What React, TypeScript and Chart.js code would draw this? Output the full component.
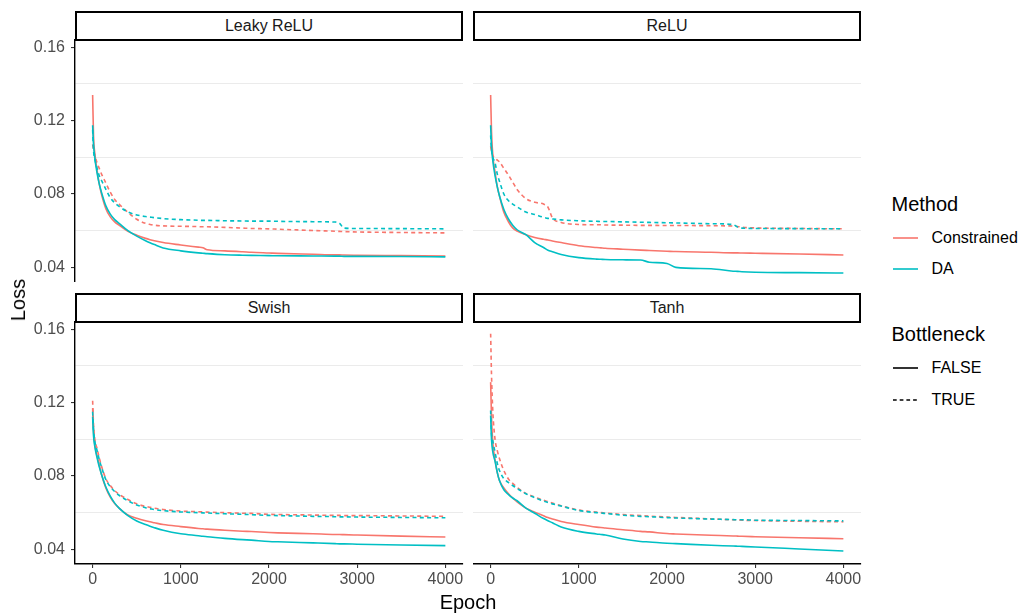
import React, { useEffect, useRef } from "react";
import { Chart, registerables } from "chart.js";

Chart.register(...registerables);

// ---------------- DATA ----------------
const EPOCHS = [0, 10, 25, 50, 75, 100, 150, 200, 250, 300, 400, 500, 600, 650, 700, 800, 1000, 1200, 1250, 1300, 1500, 1700, 1800, 2000, 2100, 2500, 2750, 2800, 2850, 3000, 3500, 4000];

const LEAKY_CONSTRAINED_SOLID = [0.134, 0.112, 0.102, 0.093, 0.0855, 0.080, 0.072, 0.0675, 0.0648, 0.063, 0.0596, 0.0575, 0.0558, 0.0551, 0.0545, 0.0535, 0.0522, 0.051, 0.0507, 0.0496, 0.049, 0.0485, 0.0482, 0.0478, 0.0476, 0.0471, 0.0468, 0.0468, 0.0467, 0.0466, 0.0464, 0.0462];
const LEAKY_DA_SOLID = [0.1175, 0.107, 0.0995, 0.0915, 0.0855, 0.081, 0.0735, 0.069, 0.066, 0.064, 0.06, 0.057, 0.0545, 0.0534, 0.0524, 0.0506, 0.049, 0.0479, 0.0477, 0.0475, 0.0469, 0.0466, 0.0465, 0.0464, 0.0463, 0.0462, 0.0461, 0.0461, 0.046, 0.046, 0.0459, 0.0457];
const LEAKY_CONSTRAINED_DASHED = [0.107, 0.104, 0.101, 0.097, 0.094, 0.091, 0.086, 0.081, 0.077, 0.0745, 0.07, 0.0662, 0.064, 0.0634, 0.063, 0.0626, 0.0624, 0.0622, 0.0621, 0.0621, 0.0618, 0.0614, 0.0612, 0.061, 0.0608, 0.0601, 0.0597, 0.0596, 0.0595, 0.0593, 0.059, 0.0588];
const LEAKY_DA_DASHED = [0.115, 0.104, 0.099, 0.094, 0.09, 0.0875, 0.0825, 0.078, 0.0752, 0.0732, 0.0702, 0.0686, 0.0677, 0.0674, 0.0671, 0.0666, 0.066, 0.0657, 0.0656, 0.0656, 0.0654, 0.0653, 0.0652, 0.0652, 0.0651, 0.0649, 0.0647, 0.064, 0.0614, 0.0612, 0.0611, 0.061];

const RELU_CONSTRAINED_SOLID = [0.134, 0.114, 0.101, 0.092, 0.084, 0.079, 0.07, 0.065, 0.0615, 0.0598, 0.0578, 0.0563, 0.0553, 0.0549, 0.0544, 0.0535, 0.0518, 0.0508, 0.0506, 0.0504, 0.0499, 0.0494, 0.0492, 0.0488, 0.0486, 0.0482, 0.0479, 0.0479, 0.0478, 0.0477, 0.0473, 0.0467];
const RELU_DA_SOLID = [0.1175, 0.106, 0.098, 0.09, 0.084, 0.079, 0.0715, 0.0665, 0.063, 0.0605, 0.0578, 0.0535, 0.0508, 0.0493, 0.0485, 0.047, 0.0453, 0.0445, 0.0444, 0.0443, 0.0441, 0.044, 0.0428, 0.0421, 0.04, 0.0392, 0.0379, 0.0378, 0.0376, 0.0373, 0.0371, 0.0369];
const RELU_CONSTRAINED_DASHED = [0.106, 0.103, 0.101, 0.0995, 0.0985, 0.0975, 0.094, 0.0905, 0.0865, 0.0825, 0.0775, 0.0755, 0.0745, 0.0728, 0.067, 0.0645, 0.0634, 0.0632, 0.0632, 0.0631, 0.063, 0.0629, 0.0629, 0.0628, 0.0628, 0.0627, 0.0625, 0.0623, 0.0619, 0.0615, 0.0612, 0.061];
const RELU_DA_DASHED = [0.112, 0.104, 0.1, 0.097, 0.091, 0.087, 0.08, 0.0765, 0.0745, 0.073, 0.0702, 0.0688, 0.0673, 0.0667, 0.0664, 0.0659, 0.0654, 0.0651, 0.065, 0.065, 0.0648, 0.0646, 0.0645, 0.0643, 0.0642, 0.0638, 0.0633, 0.062, 0.0614, 0.0612, 0.0611, 0.061];

const SWISH_CONSTRAINED_SOLID = [0.117, 0.105, 0.097, 0.091, 0.086, 0.081, 0.0735, 0.0685, 0.065, 0.0625, 0.0587, 0.057, 0.0556, 0.055, 0.0545, 0.0535, 0.0524, 0.0514, 0.0512, 0.051, 0.0504, 0.0499, 0.0497, 0.0492, 0.049, 0.0485, 0.0481, 0.0481, 0.048, 0.0478, 0.0472, 0.0467];
const SWISH_DA_SOLID = [0.1124, 0.102, 0.096, 0.09, 0.085, 0.081, 0.074, 0.069, 0.0652, 0.0625, 0.0584, 0.0555, 0.0535, 0.0526, 0.0518, 0.0504, 0.0485, 0.0474, 0.0471, 0.0469, 0.046, 0.0453, 0.045, 0.0443, 0.0441, 0.0435, 0.0431, 0.043, 0.043, 0.0428, 0.0424, 0.042];
const SWISH_CONSTRAINED_DASHED = [0.121, 0.108, 0.1, 0.095, 0.09, 0.0855, 0.0785, 0.0748, 0.072, 0.07, 0.0672, 0.0648, 0.0634, 0.0629, 0.0624, 0.0617, 0.0609, 0.0605, 0.0604, 0.0603, 0.06, 0.0597, 0.0596, 0.0591, 0.059, 0.0587, 0.0585, 0.0585, 0.0584, 0.0584, 0.0582, 0.058];
const SWISH_DA_DASHED = [0.115, 0.106, 0.099, 0.094, 0.089, 0.085, 0.078, 0.0742, 0.0715, 0.0695, 0.0665, 0.0642, 0.0627, 0.0622, 0.0617, 0.0611, 0.0604, 0.06, 0.0599, 0.0598, 0.0594, 0.0591, 0.0589, 0.0585, 0.0584, 0.058, 0.0578, 0.0577, 0.0577, 0.0576, 0.0574, 0.0572];

const TANH_CONSTRAINED_SOLID = [0.1312, 0.112, 0.098, 0.089, 0.082, 0.0775, 0.0735, 0.0705, 0.068, 0.0659, 0.0625, 0.0603, 0.0583, 0.0573, 0.0566, 0.0552, 0.0535, 0.0521, 0.0519, 0.0516, 0.0507, 0.0498, 0.0495, 0.0486, 0.0484, 0.0477, 0.0473, 0.0472, 0.0471, 0.0469, 0.0463, 0.0458];
const TANH_DA_SOLID = [0.113, 0.1, 0.093, 0.088, 0.082, 0.0775, 0.0725, 0.07, 0.068, 0.0665, 0.0625, 0.0597, 0.0568, 0.0556, 0.0545, 0.0522, 0.0498, 0.0484, 0.0481, 0.0478, 0.0456, 0.0443, 0.044, 0.0433, 0.0431, 0.0422, 0.0418, 0.0417, 0.0416, 0.0413, 0.0402, 0.0391];
const TANH_CONSTRAINED_DASHED = [0.1576, 0.135, 0.115, 0.1, 0.094, 0.0895, 0.083, 0.0785, 0.076, 0.0738, 0.0705, 0.0685, 0.0668, 0.066, 0.0652, 0.0638, 0.0614, 0.0603, 0.06, 0.0598, 0.059, 0.0584, 0.0581, 0.0576, 0.0574, 0.0566, 0.0561, 0.056, 0.0559, 0.0557, 0.0553, 0.055];
const TANH_DA_DASHED = [0.1157, 0.103, 0.099, 0.093, 0.087, 0.083, 0.0785, 0.0765, 0.0748, 0.0732, 0.0703, 0.0682, 0.0663, 0.0655, 0.0648, 0.0636, 0.0612, 0.06, 0.0598, 0.0596, 0.0586, 0.058, 0.0578, 0.0573, 0.0571, 0.0565, 0.0562, 0.0561, 0.0561, 0.0559, 0.0557, 0.0555];

const PANEL_TITLES = ["Leaky ReLU", "ReLU", "Swish", "Tanh"];
const METHODS = ["Constrained", "DA"];
const BOTTLENECK = ["FALSE", "TRUE"];
const X_TICKS = [0, 1000, 2000, 3000, 4000];
const Y_TICKS = [0.04, 0.06, 0.08, 0.1, 0.12, 0.14, 0.16];
const Y_LABELED = [0.04, 0.08, 0.12, 0.16];
const Y_GRID = [0.06, 0.1, 0.14];
const X_MIN = -200, X_MAX = 4200;
const Y_MIN = 0.032, Y_MAX = 0.164;

// ---------------- STYLE ----------------
const RED = "#F8766D";
const TEAL = "#00BFC4";
const FONT = "'Liberation Sans', Arial, Helvetica, sans-serif";
const DASH = [4, 3.3];
const LINE_W = 1.6;

const PLOT_W = 388;
const PLOT_H = 242;
const MARGIN = 20;
const Y_AXIS_W = 75;
const X_AXIS_H = 34;

const near = (list: number[], v: number) => list.some((t) => Math.abs(t - v) < 1e-9);

const SERIES = [
  { solidC: LEAKY_CONSTRAINED_SOLID, solidD: LEAKY_DA_SOLID, dashC: LEAKY_CONSTRAINED_DASHED, dashD: LEAKY_DA_DASHED },
  { solidC: RELU_CONSTRAINED_SOLID, solidD: RELU_DA_SOLID, dashC: RELU_CONSTRAINED_DASHED, dashD: RELU_DA_DASHED },
  { solidC: SWISH_CONSTRAINED_SOLID, solidD: SWISH_DA_SOLID, dashC: SWISH_CONSTRAINED_DASHED, dashD: SWISH_DA_DASHED },
  { solidC: TANH_CONSTRAINED_SOLID, solidD: TANH_DA_SOLID, dashC: TANH_CONSTRAINED_DASHED, dashD: TANH_DA_DASHED },
];

const LAYOUT = [
  { left: 75, top: 40, showY: true, showX: false },
  { left: 473, top: 40, showY: false, showX: false },
  { left: 75, top: 322, showY: true, showX: true },
  { left: 473, top: 322, showY: false, showX: true },
];

const pts = (ys: number[]) => EPOCHS.map((x, i) => ({ x, y: ys[i] }));

function ds(label: string, ys: number[], color: string, dashed: boolean) {
  return {
    label,
    data: pts(ys),
    borderColor: color,
    backgroundColor: color,
    borderWidth: LINE_W,
    borderDash: dashed ? DASH : [],
    pointRadius: 0,
    fill: false,
    cubicInterpolationMode: "monotone" as const,
  };
}

function Panel({ index }: { index: number }) {
  const ref = useRef<HTMLCanvasElement>(null);
  const lay = LAYOUT[index];
  const s = SERIES[index];
  const yW = lay.showY ? Y_AXIS_W : 0;
  const cw = yW + PLOT_W + MARGIN;
  const ch = MARGIN + PLOT_H + (lay.showX ? X_AXIS_H : MARGIN);
  const cl = lay.left - yW;
  const ct = lay.top - MARGIN;

  useEffect(() => {
    if (!ref.current) return;
    const chart = new Chart(ref.current, {
      type: "line",
      data: {
        datasets: [
          ds(`${METHODS[1]} ${BOTTLENECK[1]}`, s.dashD, TEAL, true),
          ds(`${METHODS[1]} ${BOTTLENECK[0]}`, s.solidD, TEAL, false),
          ds(`${METHODS[0]} ${BOTTLENECK[1]}`, s.dashC, RED, true),
          ds(`${METHODS[0]} ${BOTTLENECK[0]}`, s.solidC, RED, false),
        ],
      },
      options: {
        responsive: false,
        animation: false,
        devicePixelRatio: 1,
        events: [],
        layout: { padding: { left: 0, top: MARGIN, right: MARGIN, bottom: lay.showX ? 0 : MARGIN } },
        plugins: { legend: { display: false }, tooltip: { enabled: false }, title: { display: false } },
        scales: {
          x: {
            type: "linear",
            display: lay.showX,
            min: X_MIN,
            max: X_MAX,
            afterBuildTicks: (axis: any) => {
              axis.ticks = X_TICKS.map((v) => ({ value: v }));
            },
            afterFit: (axis: any) => {
              axis.height = lay.showX ? X_AXIS_H : 0;
            },
            grid: {
              drawOnChartArea: false,
              drawTicks: true,
              tickLength: 4,
              tickColor: "#333333",
              lineWidth: 1.1,
            },
            border: { display: true, color: "#000000", width: 1.4 },
            ticks: {
              color: "#4D4D4D",
              padding: 2,
              maxRotation: 0,
              autoSkip: false,
              font: { family: FONT, size: 16 },
              callback: (v: any) => String(v),
            },
          },
          y: {
            type: "linear",
            display: true,
            min: Y_MIN,
            max: Y_MAX,
            afterBuildTicks: (axis: any) => {
              axis.ticks = Y_TICKS.map((v) => ({ value: v }));
            },
            afterFit: (axis: any) => {
              axis.width = yW;
            },
            grid: {
              drawOnChartArea: true,
              drawTicks: lay.showY,
              tickLength: 4,
              lineWidth: 1.1,
              color: (ctx: any) => (ctx.tick && near(Y_GRID, ctx.tick.value) ? "#EBEBEB" : "rgba(0,0,0,0)"),
              tickColor: (ctx: any) => (ctx.tick && near(Y_LABELED, ctx.tick.value) ? "#333333" : "rgba(0,0,0,0)"),
            },
            border: { display: lay.showY, color: "#000000", width: 1.4 },
            ticks: {
              display: lay.showY,
              color: "#4D4D4D",
              padding: 6,
              autoSkip: false,
              font: { family: FONT, size: 16 },
              callback: (v: any) => (near(Y_LABELED, Number(v)) ? Number(v).toFixed(2) : ""),
            },
          },
        },
      } as any,
    });
    return () => chart.destroy();
  }, []);

  return (
    <canvas
      ref={ref}
      width={cw}
      height={ch}
      style={{ position: "absolute", left: cl, top: ct, width: cw, height: ch }}
    />
  );
}

function Strip({ index }: { index: number }) {
  const lay = LAYOUT[index];
  return (
    <div
      style={{
        position: "absolute",
        left: lay.left,
        top: lay.top - 29.5,
        width: PLOT_W,
        height: 30,
        boxSizing: "border-box",
        border: "2px solid #000",
        background: "#fff",
        display: "flex",
        alignItems: "center",
        justifyContent: "center",
        fontFamily: FONT,
        fontSize: 16,
        lineHeight: "16px",
        color: "#1A1A1A",
      }}
    >
      {PANEL_TITLES[index]}
    </div>
  );
}

function Text({ x, y, size, children, color = "#000" }: any) {
  return (
    <div
      style={{
        position: "absolute",
        left: x,
        top: y - size / 2,
        fontFamily: FONT,
        fontSize: size,
        lineHeight: `${size}px`,
        color,
        whiteSpace: "nowrap",
      }}
    >
      {children}
    </div>
  );
}

function Key({ y, color, dashed }: { y: number; color: string; dashed: boolean }) {
  return (
    <svg style={{ position: "absolute", left: 893, top: y - 3, width: 26, height: 6 }} width={26} height={6}>
      <line
        x1={0}
        y1={3}
        x2={25}
        y2={3}
        stroke={color}
        strokeWidth={LINE_W}
        strokeDasharray={dashed ? "3.7 3" : undefined}
      />
    </svg>
  );
}

export default function App() {
  return (
    <div
      style={{
        position: "absolute",
        left: 0,
        top: 0,
        width: 1023,
        height: 616,
        background: "#fff",
        overflow: "hidden",
      }}
    >
      {LAYOUT.map((_, i) => (
        <Panel key={`p${i}`} index={i} />
      ))}
      {LAYOUT.map((_, i) => (
        <Strip key={`s${i}`} index={i} />
      ))}

      {/* axis titles */}
      <div
        style={{
          position: "absolute",
          left: 468,
          top: 602,
          transform: "translate(-50%, -50%)",
          fontFamily: FONT,
          fontSize: 20,
          lineHeight: "20px",
          color: "#000",
          whiteSpace: "nowrap",
        }}
      >
        Epoch
      </div>
      <div
        style={{
          position: "absolute",
          left: 17.5,
          top: 300,
          transform: "translate(-50%, -50%) rotate(-90deg)",
          fontFamily: FONT,
          fontSize: 20,
          lineHeight: "20px",
          color: "#000",
          whiteSpace: "nowrap",
        }}
      >
        Loss
      </div>

      {/* legends */}
      <Text x={891.5} y={204} size={20}>Method</Text>
      <Key y={237.7} color={RED} dashed={false} />
      <Text x={931.5} y={237.5} size={16}>{METHODS[0]}</Text>
      <Key y={269.3} color={TEAL} dashed={false} />
      <Text x={931.5} y={269.2} size={16}>{METHODS[1]}</Text>

      <Text x={891.5} y={334.2} size={20}>Bottleneck</Text>
      <Key y={368.3} color="#000" dashed={false} />
      <Text x={931.5} y={368.3} size={16}>{BOTTLENECK[0]}</Text>
      <Key y={400} color="#000" dashed={true} />
      <Text x={931.5} y={400} size={16}>{BOTTLENECK[1]}</Text>
    </div>
  );
}
